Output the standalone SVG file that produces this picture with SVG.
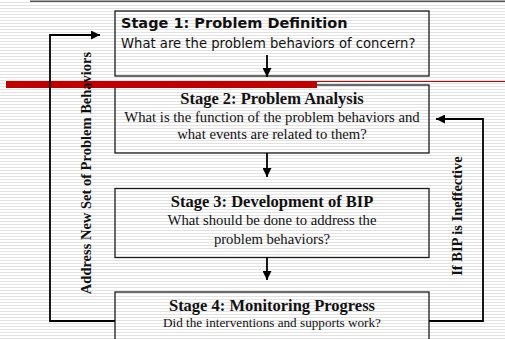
<svg xmlns="http://www.w3.org/2000/svg" width="505" height="339" viewBox="0 0 505 339">
<style>
.box{fill:none;stroke:#1a1a1a;stroke-width:1.3}
.conn{fill:none;stroke:#000;stroke-width:1.8}
.sans{font-family:"DejaVu Sans","Verdana",sans-serif;fill:#111}
.serif{font-family:"Liberation Serif","Times New Roman",serif;fill:#111}
.t{font-weight:bold;font-size:16.5px;text-anchor:middle}
.s{font-size:14.7px;text-anchor:middle}
.lbl{font-family:"Liberation Serif","Times New Roman",serif;font-weight:bold;font-size:14.5px;text-anchor:middle;fill:#111}
</style>
<defs>
<pattern id="bg" width="8" height="3" patternUnits="userSpaceOnUse"><rect width="8" height="3" fill="#fff"/><rect y="2" width="8" height="1" fill="#e2e2e2"/></pattern>
<marker id="ah" viewBox="0 0 10 10" refX="10" refY="5" markerWidth="9" markerHeight="9" markerUnits="userSpaceOnUse" orient="auto"><path d="M0,0 L10,5 L0,10 z" fill="#000"/></marker>
</defs>
<rect width="505" height="339" fill="url(#bg)"/>
<line x1="30" y1="1.2" x2="505" y2="1.2" stroke="#555" stroke-width="1.6"/>

<g id="stage1">
<rect class="box" x="115" y="11" width="314" height="65"/>
<text class="sans" x="121" y="28" font-size="14.5" font-weight="bold">Stage 1: Problem Definition</text>
<text class="sans" x="121" y="48" font-size="13.2">What are the problem behaviors of concern?</text>
</g>
<g id="stage2">
<rect class="box" x="115" y="85" width="314" height="68"/>
<text class="serif t" x="272" y="103.5">Stage 2: Problem Analysis</text>
<text class="serif s" x="272" y="121.5">What is the function of the problem behaviors and</text>
<text class="serif s" x="272" y="139">what events are related to them?</text>
</g>
<g id="stage3">
<rect class="box" x="115" y="188.5" width="314" height="69"/>
<text class="serif t" x="272" y="206.5">Stage 3: Development of BIP</text>
<text class="serif s" x="272" y="225">What should be done to address the</text>
<text class="serif s" x="272" y="243.5">problem behaviors?</text>
</g>
<g id="stage4">
<rect class="box" x="115" y="292" width="314" height="60"/>
<text class="serif t" x="272" y="310.5">Stage 4: Monitoring Progress</text>
<text class="serif" x="272" y="326.5" font-size="13.2" text-anchor="middle">Did the interventions and supports work?</text>
</g>

<g id="redbar">
<rect x="6" y="81" width="311" height="7" fill="#c00000"/>
<line x1="317" y1="81.5" x2="505" y2="81.5" stroke="#cc0000" stroke-width="1"/>
</g>

<g id="connectors">
<line class="conn" x1="267" y1="55" x2="267" y2="77" marker-end="url(#ah)"/>
<line class="conn" x1="267" y1="153" x2="267" y2="177" marker-end="url(#ah)"/>
<line class="conn" x1="267" y1="257.5" x2="267" y2="280" marker-end="url(#ah)"/>
<polyline class="conn" points="115,321 50,321 50,35 100,35" marker-end="url(#ah)"/>
<polyline class="conn" points="429,321 483,321 483,119 436,119" marker-end="url(#ah)"/>
</g>

<g id="labels">
<text class="lbl" transform="translate(91,173) rotate(-90)">Address New Set of Problem Behaviors</text>
<text class="lbl" transform="translate(462,216) rotate(-90)">If BIP is Ineffective</text>
</g>
</svg>
